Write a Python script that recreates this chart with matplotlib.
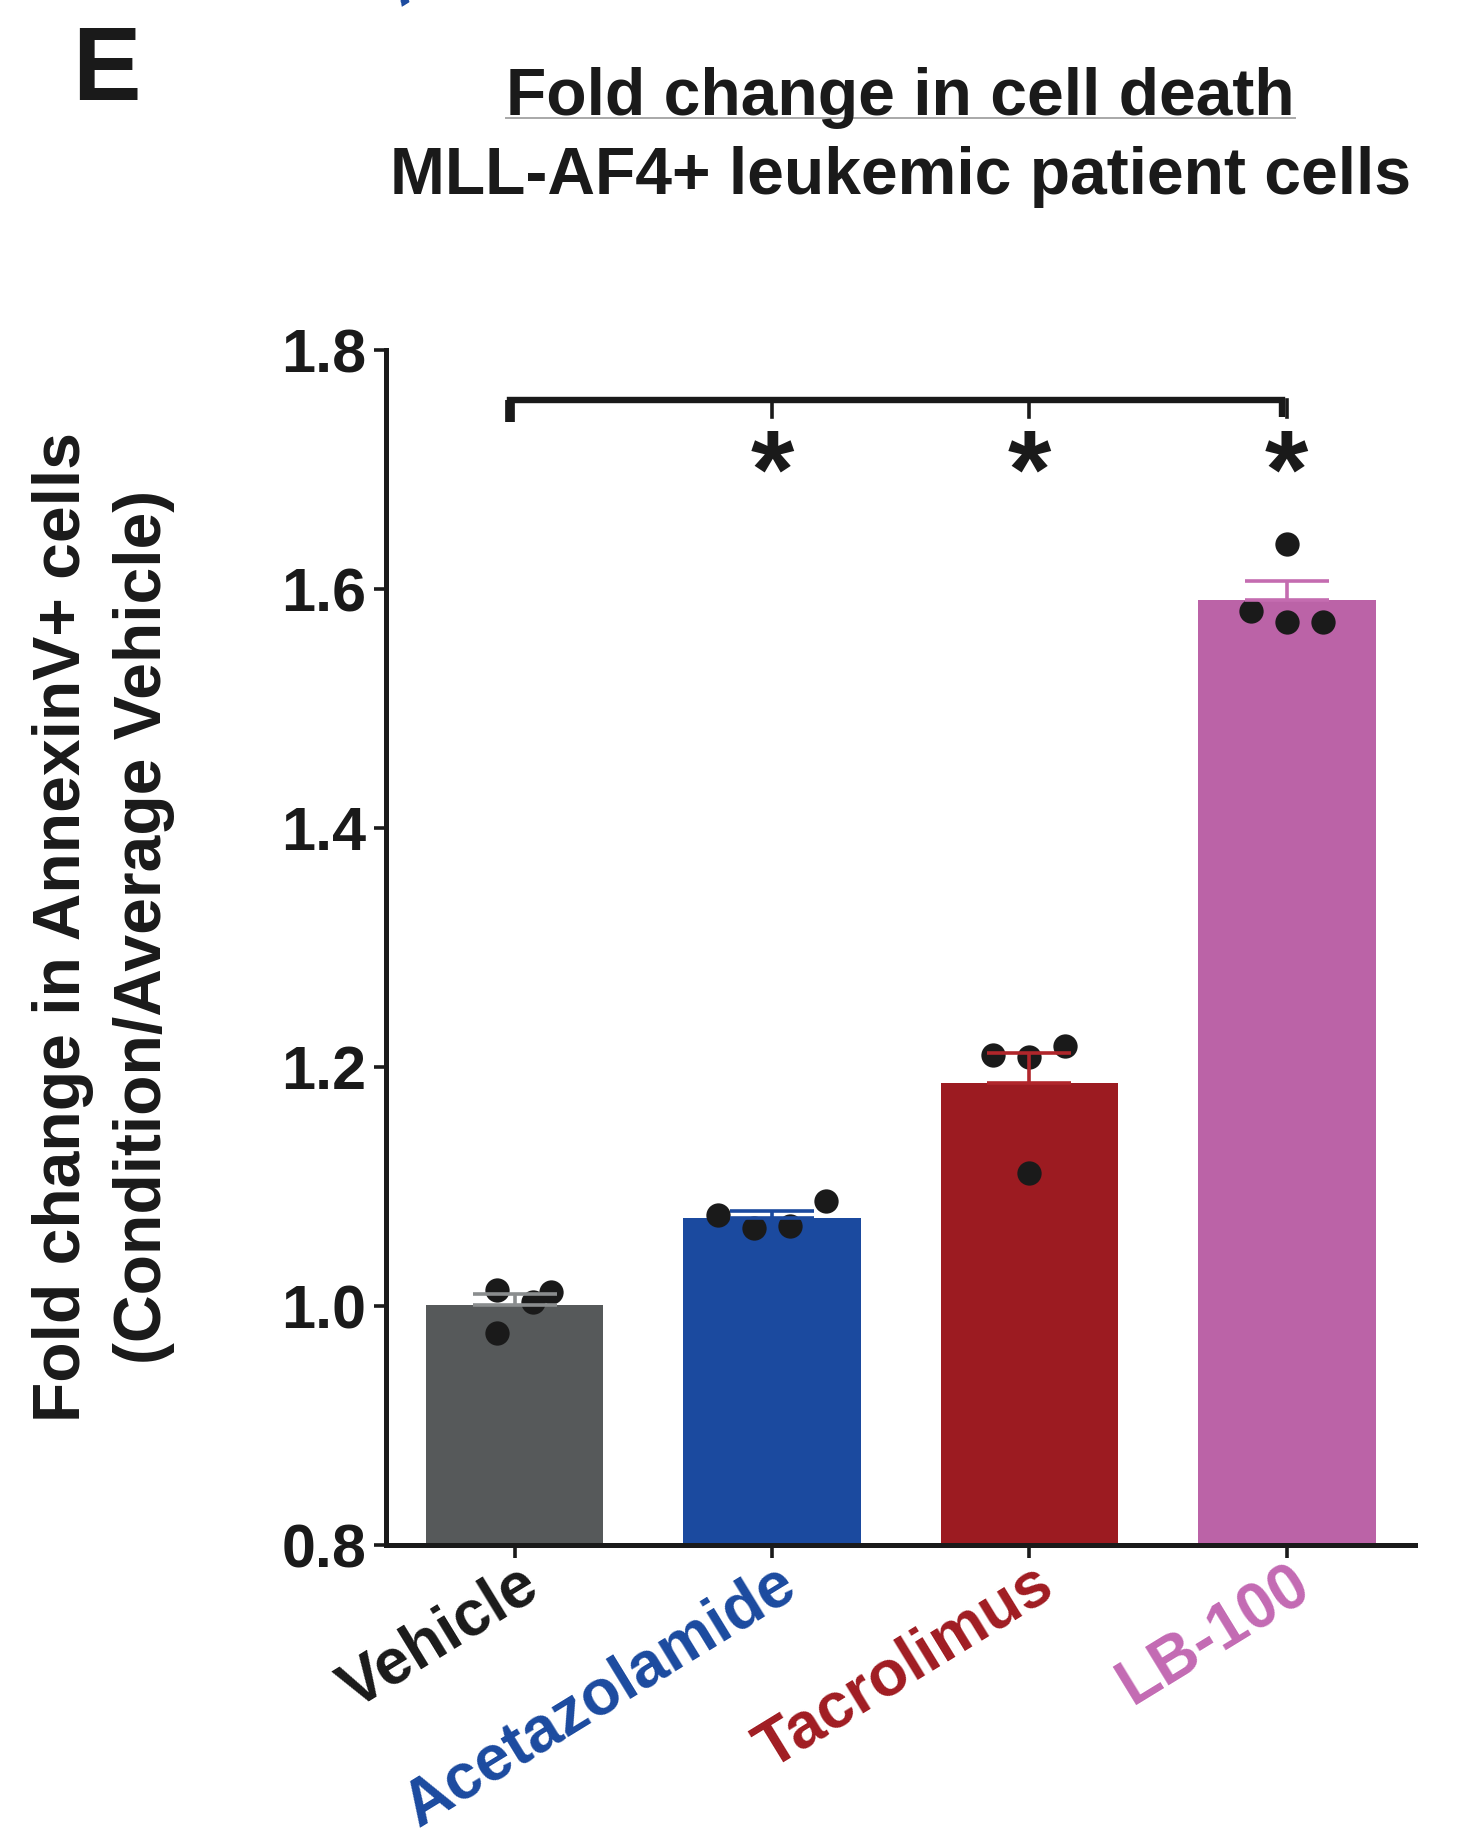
import numpy as np
import matplotlib
matplotlib.use("Agg")
import matplotlib.pyplot as plt
from matplotlib.lines import Line2D
from matplotlib.transforms import ScaledTranslation

plt.rcParams['font.family'] = ['Liberation Sans', 'DejaVu Sans']
plt.rcParams['font.weight'] = 'bold'

# ---- data -------------------------------------------------------------
categories = ["Vehicle", "Acetazolamide", "Tacrolimus", "LB-100"]
vehicle_pts = [1.013, 0.977, 1.003, 1.012]
acetazolamide_pts = [1.076, 1.065, 1.067, 1.088]
tacrolimus_pts = [1.210, 1.208, 1.218, 1.111]
lb100_pts = [1.638, 1.582, 1.572, 1.572]
# horizontal jitter of the replicate dots within each bar
vehicle_jit = [-0.07, -0.07, 0.07, 0.14]
acetazolamide_jit = [-0.21, -0.07, 0.07, 0.21]
tacrolimus_jit = [-0.14, 0.0, 0.14, 0.0]
lb100_jit = [0.0, -0.14, 0.0, 0.14]
significant = ["Acetazolamide", "Tacrolimus", "LB-100"]
yticks = [0.8, 1.0, 1.2, 1.4, 1.6, 1.8]

groups = [vehicle_pts, acetazolamide_pts, tacrolimus_pts, lb100_pts]
jitters = [vehicle_jit, acetazolamide_jit, tacrolimus_jit, lb100_jit]
means = [np.mean(g) for g in groups]
sems = [np.std(g, ddof=1) / np.sqrt(len(g)) for g in groups]

bar_colors = ["#56595a", "#1b4a9f", "#9c1b21", "#bb63a7"]
err_colors = ["#8a8d8e", "#1b4a9f", "#b0262b", "#c46cb0"]
label_colors = ["#1a1a1a", "#1b4a9f", "#a01c22", "#c36ab3"]
ink = "#1a1a1a"

# ---- figure -----------------------------------------------------------
fig = plt.figure(figsize=(14.79, 18.47), dpi=100)
ax = fig.add_axes([0.261, 0.1635, 0.696, 0.647])

x = np.arange(len(categories))
ax.bar(x, means, width=0.69, color=bar_colors, zorder=2)

for i, (pts, jit) in enumerate(zip(groups, jitters)):
    ax.plot(x[i] + np.array(jit), pts, 'o', ms=17.5, color=ink,
            markeredgewidth=0, zorder=3)
    ax.errorbar(x[i], means[i], yerr=[[0], [sems[i]]], color=err_colors[i],
                capsize=30, capthick=2.6, elinewidth=2.6, zorder=4)

ax.set_xlim(-0.5, 3.5)
ax.set_ylim(0.8, 1.8)

for side in ("top", "right"):
    ax.spines[side].set_visible(False)
for side in ("left", "bottom"):
    ax.spines[side].set_linewidth(3.6)
    ax.spines[side].set_color(ink)

ax.set_yticks(yticks, [f"{v:.1f}" for v in yticks])
ax.tick_params(axis='y', direction='out', length=9, width=2.6, color=ink,
               labelsize=44, pad=5, labelcolor=ink)
ax.set_xticks(x, categories)
ax.tick_params(axis='x', direction='inout', length=19, width=2.6, color=ink,
               labelsize=46, pad=-3)
shift = ScaledTranslation(0.03, 0, fig.dpi_scale_trans)
for lbl, c in zip(ax.get_xticklabels(), label_colors):
    lbl.set_color(c)
    lbl.set_rotation(31.5)
    lbl.set_ha('right')
    lbl.set_va('top')
    lbl.set_rotation_mode('anchor')
    lbl.set_fontweight('bold')
    lbl.set_transform(lbl.get_transform() + shift)
for lbl in ax.get_yticklabels():
    lbl.set_fontweight('bold')

# significance bracket: Vehicle vs each treatment
y_br, y_drop, y_star = 1.758, 1.744, 1.668
xs = [categories.index(c) for c in significant]
ax.plot([-0.02, -0.02, xs[-1] - 0.02, xs[-1] - 0.02],
        [y_drop, y_br, y_br, y_drop], color=ink,
        lw=4.6, solid_joinstyle='miter', solid_capstyle='butt', zorder=5)
ax.plot([-0.02, -0.02], [y_drop - 0.004, y_br], color=ink, lw=7,
        solid_capstyle='butt', zorder=5)
for xi in xs:
    ax.plot([xi, xi], [y_br, y_drop], color=ink, lw=2.6, zorder=5)
    ax.text(xi, y_star, "*", ha='center', va='baseline', fontsize=80,
            fontweight='bold', color=ink)

# axis title (two lines)
fig.text(0.0541, 0.498, "Fold change in AnnexinV+ cells", rotation=90,
         rotation_mode='anchor', ha='center', va='baseline', fontsize=47.5,
         fontweight='bold', color=ink)
fig.text(0.1089, 0.498, "(Condition/Average Vehicle)", rotation=90,
         rotation_mode='anchor', ha='center', va='baseline', fontsize=47.5,
         fontweight='bold', color=ink)

# chart title
t1 = fig.text(0.609, 1 - 115 / 1847, "Fold change in cell death", ha='center',
              va='baseline', fontsize=47.5, fontweight='bold', color=ink)
fig.text(0.609, 1 - 194 / 1847, "MLL-AF4+ leukemic patient cells",
         ha='center', va='baseline', fontsize=47.5, fontweight='bold', color=ink)

# panel letter
fig.text(0.049, 1 - 100 / 1847, "E", ha='left', va='baseline', fontsize=74,
         fontweight='bold', color=ink)

# tail of the neighbouring panel's label, cut by the top edge
fig.text(0.271, 0.996, "A", rotation=32, rotation_mode='anchor', ha='left',
         va='baseline', fontsize=44, fontweight='bold', color="#1b4a9f")

# underline the first title line
fig.canvas.draw()
bb = t1.get_window_extent().transformed(fig.transFigure.inverted())
uy = 1 - 118 / 1847
fig.add_artist(Line2D([bb.x0, bb.x1], [uy, uy], transform=fig.transFigure,
                      color="#a8a8a8", lw=1.4))

fig.savefig("out.png", dpi=100)
